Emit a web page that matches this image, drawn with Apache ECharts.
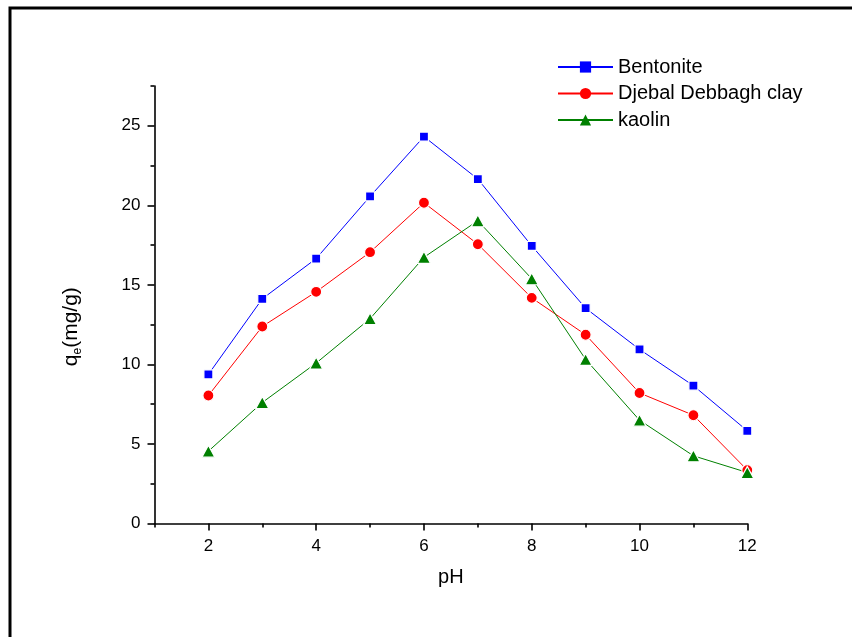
<!DOCTYPE html>
<html>
<head>
<meta charset="utf-8">
<script src="https://cdn.jsdelivr.net/npm/echarts@6/dist/echarts.min.js"></script>
<style>html,body{margin:0;padding:0;background:#fff}#c{width:852px;height:637px}</style>
</head>
<body>
<div id="c"></div>
<script>
const pH = [2, 3, 4, 5, 6, 7, 8, 9, 10, 11, 12];
const bentonite = [9.37, 14.12, 16.65, 20.56, 24.32, 21.65, 17.45, 13.53, 10.94, 8.66, 5.82];
const djebal = [8.04, 12.38, 14.56, 17.05, 20.16, 17.55, 14.18, 11.86, 8.2, 6.8, 3.35];
const kaolin = [4.54, 7.6, 10.08, 12.87, 16.73, 19.03, 15.38, 10.31, 6.49, 4.25, 3.2];
const xMajorTicks = [2, 4, 6, 8, 10, 12];
const xMinorTicks = [1, 3, 5, 7, 9, 11];
const yMajorTicks = [0, 5, 10, 15, 20, 25];
const yMinorTicks = [2.5, 7.5, 12.5, 17.5, 22.5, 27.5];
const seriesNames = ['Bentonite', 'Djebal Debbagh clay', 'kaolin'];

const FONT = 'Liberation Sans, Arial, sans-serif';
const chart = echarts.init(document.getElementById('c'), null, {renderer: 'canvas'});
const pairs = arr => pH.map((x, i) => [x, arr[i]]);
const axisLine = {show: true, lineStyle: {color: '#000', width: 1.6}};

function mkSeries(name, data, color, symbol, size) {
  return {
    name, type: 'line', data: pairs(data), xAxisIndex: 0, yAxisIndex: 0,
    symbol, symbolSize: size, showAllSymbol: true,
    lineStyle: {color, width: 1},
    itemStyle: {color, borderColor: '#fff', borderWidth: 1.2},
    emphasis: {disabled: true}, animation: false
  };
}

chart.setOption({
  animation: false,
  backgroundColor: '#fff',
  grid: {left: 154.5, right: 104.7, top: 86, bottom: 113.6, outerBoundsMode: 'none'},
  legend: {
    orient: 'vertical', left: 557, top: 57, padding: 0,
    itemWidth: 55, itemHeight: 14, itemGap: 6.5,
    data: seriesNames,
    itemStyle: {borderWidth: 0},
    textStyle: {fontFamily: FONT, fontSize: 20, color: '#000', lineHeight: 20}
  },
  xAxis: [{
    type: 'value', min: 1, max: 12, interval: 1, position: 'bottom',
    name: 'pH', nameLocation: 'middle', nameGap: 44,
    nameTextStyle: {fontFamily: FONT, fontSize: 20, color: '#000'},
    axisLine,
    axisTick: {show: true, inside: false, length: 7, customValues: xMajorTicks, lineStyle: {color: '#000', width: 1.6}},
    axisLabel: {customValues: xMajorTicks, margin: 14, fontFamily: FONT, fontSize: 17, color: '#000'},
    splitLine: {show: false}
  }, {
    type: 'value', min: 1, max: 12, interval: 1, position: 'bottom', gridIndex: 0,
    axisLine: {show: false},
    axisTick: {show: true, inside: false, length: 4, customValues: xMinorTicks, lineStyle: {color: '#000', width: 1.6}},
    axisLabel: {show: false}, splitLine: {show: false}
  }],
  yAxis: [{
    type: 'value', min: 0, max: 27.5, interval: 2.5, position: 'left',
    name: '{q|q}{e|e}{q|(mg/g)}', nameLocation: 'middle', nameGap: 71,
    nameTextStyle: {
      fontFamily: FONT, color: '#000', padding: [0, 44, 0, 0],
      rich: {
        q: {fontFamily: FONT, fontSize: 21, color: '#000', lineHeight: 25},
        e: {fontFamily: FONT, fontSize: 12, color: '#000', lineHeight: 25, verticalAlign: 'bottom'}
      }
    },
    axisLine,
    axisTick: {show: true, inside: false, length: 7, customValues: yMajorTicks, lineStyle: {color: '#000', width: 1.6}},
    axisLabel: {customValues: yMajorTicks, margin: 14, fontFamily: FONT, fontSize: 17, color: '#000'},
    splitLine: {show: false}
  }, {
    type: 'value', min: 0, max: 27.5, interval: 2.5, position: 'left', gridIndex: 0,
    axisLine: {show: false},
    axisTick: {show: true, inside: false, length: 4, customValues: yMinorTicks, lineStyle: {color: '#000', width: 1.6}},
    axisLabel: {show: false}, splitLine: {show: false}
  }],
  graphic: [{
    type: 'polyline', silent: true,
    shape: {points: [[10, 640], [10, 8], [855, 8]]},
    style: {stroke: '#000', lineWidth: 3, fill: null}
  }],
  series: [
    mkSeries(seriesNames[0], bentonite, '#0000ff', 'rect', 9),
    mkSeries(seriesNames[1], djebal, '#ff0000', 'circle', 11),
    mkSeries(seriesNames[2], kaolin, '#008000', 'triangle', [13, 12])
  ]
});
</script>
</body>
</html>
